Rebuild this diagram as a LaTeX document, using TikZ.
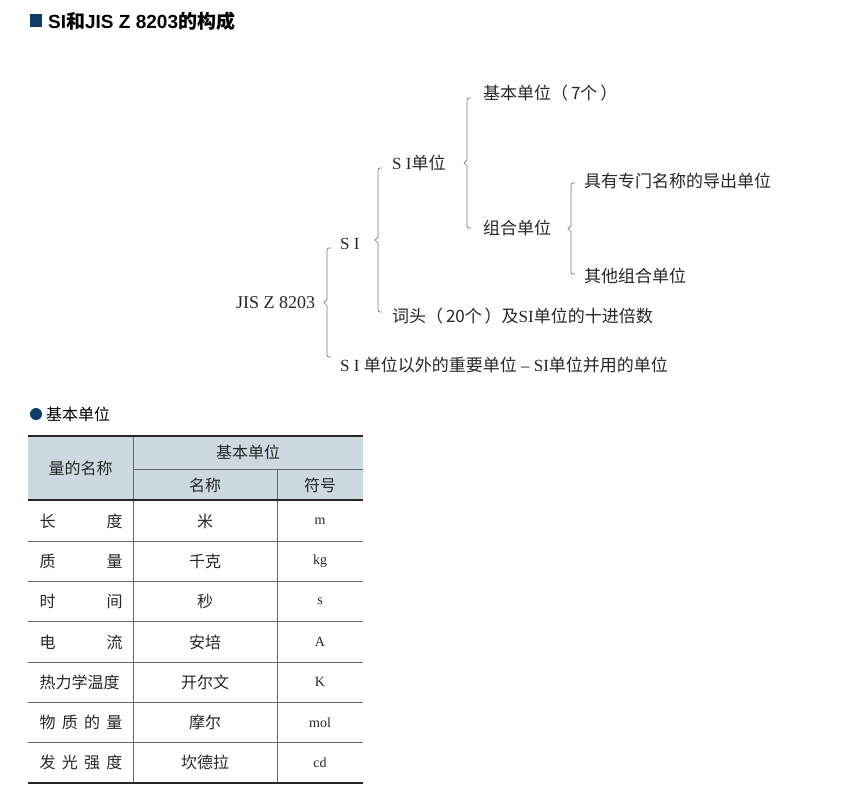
\documentclass[tikz,border=0pt]{standalone}
\usepackage{fontspec}
\setmainfont{Liberation Serif}
\newfontfamily\cjk{Noto Sans CJK SC}
\newfontfamily\cjkbold{Noto Sans CJK SC Bold}
\newfontfamily\hdr{Liberation Sans}
\definecolor{navy}{HTML}{0E3D68}
\definecolor{hfill}{HTML}{CDD9E1}
\definecolor{ln}{HTML}{777777}
\tikzset{
  lbl/.style={anchor=west,inner sep=0pt,font=\fontsize{17}{20}\selectfont,text=black!85},
  cell/.style={inner sep=0pt,font=\fontsize{16}{19}\selectfont,text=black!85},
  brc/.style={draw=ln,line width=0.7pt},
  grid/.style={draw=black!60,line width=0.7pt},
  thick rule/.style={draw=black!85,line width=2.2pt}
}
\newcommand{\bracedraw}[3]{\draw[brc] (#1+4,#2) .. controls (#1,#2) .. (#1,#2+5) -- (#1,{(#2+#3)/2-3}) -- (#1-3,{(#2+#3)/2}) -- (#1,{(#2+#3)/2+3}) -- (#1,#3-5) .. controls (#1,#3) .. (#1+4,#3);}
\begin{document}
\begin{tikzpicture}[x=1pt,y=-1pt]
\useasboundingbox (0,0) rectangle (848,801);
% title
\fill[navy] (30,14) rectangle (42,27);
\node[anchor=west,inner sep=0pt,font=\fontsize{19}{22}\selectfont\bfseries] (title) at (48,21) {\hdr SI\cjkbold 和\hdr JIS Z 8203\cjkbold 的构成};
% tree
\node[lbl,font=\fontsize{18}{20}\selectfont] (jis) at (236,303) {JIS Z 8203};
\node[lbl] (si) at (340,244) {S I};
\node[lbl] (siu) at (392,163) {S I{\cjk 单位}};
\node[lbl] (base) at (483,93) {\cjk 基本单位（\,7个\,）};
\node[lbl] (comb) at (483,228) {\cjk 组合单位};
\node[lbl] (der) at (584,181) {\cjk 具有专门名称的导出单位};
\node[lbl] (oth) at (584,276) {\cjk 其他组合单位};
\node[lbl] (pre) at (392,316) {{\cjk 词头（\,20个\,）及}SI{\cjk 单位的十进倍数}};
\node[lbl] (non) at (340,365) {S I {\cjk 单位以外的重要单位} – SI{\cjk 单位并用的单位}};
\bracedraw{327}{248}{357}
\bracedraw{378}{168}{312}
\bracedraw{467}{98}{228}
\bracedraw{571}{183}{274}
% bullet
\fill[navy] (36,414) circle (6);
\node[anchor=west,inner sep=0pt,font=\fontsize{16}{18}\selectfont\cjk] (sub) at (46,414) {基本单位};
% table
\fill[hfill] (28,436) rectangle (363,500);
\draw[grid] (133,436) -- (133,783);
\draw[grid] (277,469) -- (277,783);
\draw[grid] (133,469) -- (363,469);
\foreach \y in {541,581,621,662,702,742} \draw[grid] (28,\y) -- (363,\y);
\draw[thick rule] (28,436) -- (363,436);
\draw[thick rule] (28,500) -- (363,500);
\draw[thick rule] (28,783) -- (363,783);
\node[cell] (h1) at (80.5,468) {\cjk 量的名称};
\node[cell] (h2) at (248,452) {\cjk 基本单位};
\node[cell] (h3) at (205,485) {\cjk 名称};
\node[cell] (h4) at (320,485) {\cjk 符号};
\foreach \n/\a/\b [count=\i from 0] in {
  {长\hfill 度}/米/m,
  {质\hfill 量}/千克/kg,
  {时\hfill 间}/秒/s,
  {电\hfill 流}/安培/A,
  {热力学温度}/开尔文/K,
  {物\hfill 质\hfill 的\hfill 量}/摩尔/mol,
  {发\hfill 光\hfill 强\hfill 度}/坎德拉/cd}{
  \pgfmathsetmacro{\yy}{521+40.3*\i}
  \node[cell,anchor=center] (q\i) at (81,\yy) {\cjk\makebox[83pt][s]{\n}};
  \node[cell] (u\i) at (205,\yy) {\cjk \a};
  \node[cell,font=\fontsize{14}{16}\selectfont] (s\i) at (320,\yy) {\b};
}
\end{tikzpicture}
\end{document}
